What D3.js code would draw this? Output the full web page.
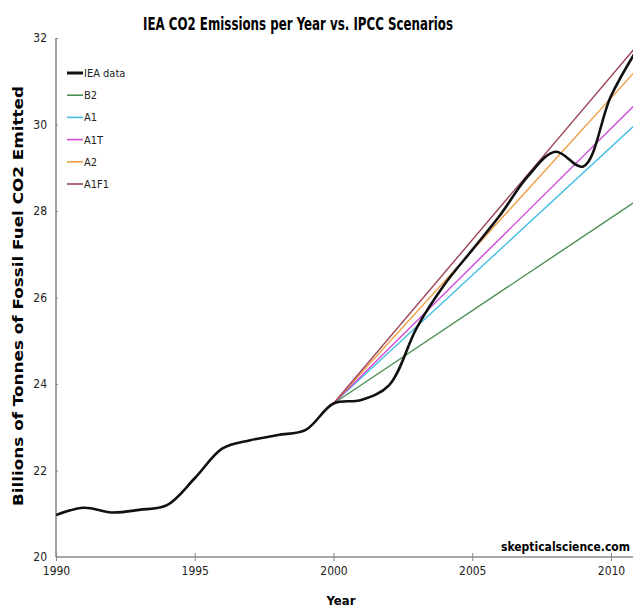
<!DOCTYPE html>
<html>
<head>
<meta charset="utf-8">
<script src="https://cdn.jsdelivr.net/npm/d3@7"></script>
<style>
  body { margin: 0; background: #fff; }
  .cond { font-family: "Liberation Sans Narrow", "DejaVu Sans Condensed", "Liberation Sans", sans-serif; }
</style>
</head>
<body>
<div id="chart"></div>
<script>
// IEA data, billions of tonnes
var years = [1990,1991,1992,1993,1994,1995,1996,1997,1998,1999,2000,2001,2002,2003,2004,2005,2006,2007,2008,2009,2010,2011];
var iea   = [20.97,21.14,21.03,21.09,21.2,21.82,22.51,22.7,22.82,22.94,23.55,23.63,23.97,25.3,26.3,27.1,27.9,28.8,29.37,29.03,30.66,31.8];

// IPCC scenarios, straight from 2000
var scenYears = [2000, 2011];
var scenarios = [
  {name: "B2",   color: "#4f8f55", values: [23.55, 28.27]},
  {name: "A1",   color: "#45bfe3", values: [23.55, 30.07]},
  {name: "A1T",  color: "#d24ad8", values: [23.55, 30.54]},
  {name: "A2",   color: "#efa04a", values: [23.55, 31.32]},
  {name: "A1F1", color: "#9b4556", values: [23.55, 31.87]}
];

var xTicks = [1990, 1995, 2000, 2005, 2010];
var yTicks = [20, 22, 24, 26, 28, 30, 32];

var width = 633, height = 608;
var mLeft = 56, mTop = 38, mBottom = 557;

var svg = d3.select("#chart").append("svg")
  .attr("width", width)
  .attr("height", height);

var x = d3.scaleLinear().domain([1990, 2010]).range([mLeft, 611]);
var y = d3.scaleLinear().domain([20, 32]).range([mBottom, mTop]);

svg.append("defs").append("clipPath").attr("id", "clip")
  .append("rect").attr("x", mLeft).attr("y", 0).attr("width", width - mLeft).attr("height", mBottom);

// title
svg.append("text")
  .attr("x", 298).attr("y", 30)
  .attr("text-anchor", "middle")
  .attr("class", "cond")
  .style("font-size", "17px").style("font-weight", "bold")
  .attr("textLength", 310).attr("lengthAdjust", "spacingAndGlyphs")
  .text("IEA CO2 Emissions per Year vs. IPCC Scenarios");

// y label
svg.append("text")
  .attr("transform", "translate(23,296) rotate(-90)")
  .attr("text-anchor", "middle")
  .style("font-family", "DejaVu Sans, sans-serif")
  .style("font-size", "14px").style("font-weight", "bold")
  .attr("textLength", 420).attr("lengthAdjust", "spacingAndGlyphs")
  .text("Billions of Tonnes of Fossil Fuel CO2 Emitted");

// x label
svg.append("text")
  .attr("x", 341).attr("y", 605)
  .attr("text-anchor", "middle")
  .attr("class", "cond")
  .style("font-size", "13px").style("font-weight", "bold")
  .text("Year");

// axes
var gy = svg.append("g")
  .attr("transform", "translate(" + mLeft + ",0)")
  .call(d3.axisLeft(y).tickValues(yTicks).tickSize(5).tickPadding(4));
var gx = svg.append("g")
  .attr("transform", "translate(0," + mBottom + ")")
  .call(d3.axisBottom(x).tickValues(xTicks).tickFormat(d3.format("d")).tickSize(4).tickPadding(5));

[gx, gy].forEach(function(g) {
  g.select(".domain").attr("stroke", "#8a8a8a").attr("stroke-width", 1.6);
  g.selectAll(".tick line").attr("stroke", "#8a8a8a");
  g.selectAll(".tick text").attr("class", "cond").style("font-size", "12px").attr("fill", "#222");
});
gx.select(".domain").attr("d", "M" + mLeft + ",0H" + width);
gx.selectAll(".tick line").attr("y1", -4);
gy.select(".domain").attr("d", "M0," + mBottom + "V" + mTop);
gy.selectAll(".tick line").attr("x2", 2);

// watermark
svg.append("text")
  .attr("x", 630).attr("y", 551)
  .attr("text-anchor", "end")
  .attr("class", "cond")
  .style("font-size", "12px").style("font-weight", "bold")
  .text("skepticalscience.com");

var plot = svg.append("g").attr("clip-path", "url(#clip)");

var line = d3.line()
  .x(function(d) { return x(d[0]); })
  .y(function(d) { return y(d[1]); });

scenarios.forEach(function(s) {
  plot.append("path")
    .datum(scenYears.map(function(yr, i) { return [yr, s.values[i]]; }))
    .attr("fill", "none")
    .attr("stroke", s.color)
    .attr("stroke-width", 1.4)
    .attr("d", line);
});

plot.append("path")
  .datum(years.map(function(yr, i) { return [yr, iea[i]]; }))
  .attr("fill", "none")
  .attr("stroke", "#111")
  .attr("stroke-width", 2.6)
  .attr("d", line.curve(d3.curveCatmullRom.alpha(0.5)));

// legend
var legend = [{name: "IEA data", color: "#111", w: 3}].concat(scenarios.map(function(s) {
  return {name: s.name, color: s.color, w: 1.6};
}));
var lg = svg.append("g");
legend.forEach(function(d, i) {
  var ly = 73 + i * 22.2;
  lg.append("line")
    .attr("x1", 67).attr("x2", 83).attr("y1", ly).attr("y2", ly)
    .attr("stroke", d.color).attr("stroke-width", d.w);
  lg.append("text")
    .attr("x", 84).attr("y", ly + 4)
    .attr("class", "cond")
    .style("font-size", "11px")
    .attr("fill", "#222")
    .text(d.name);
});
</script>
</body>
</html>
